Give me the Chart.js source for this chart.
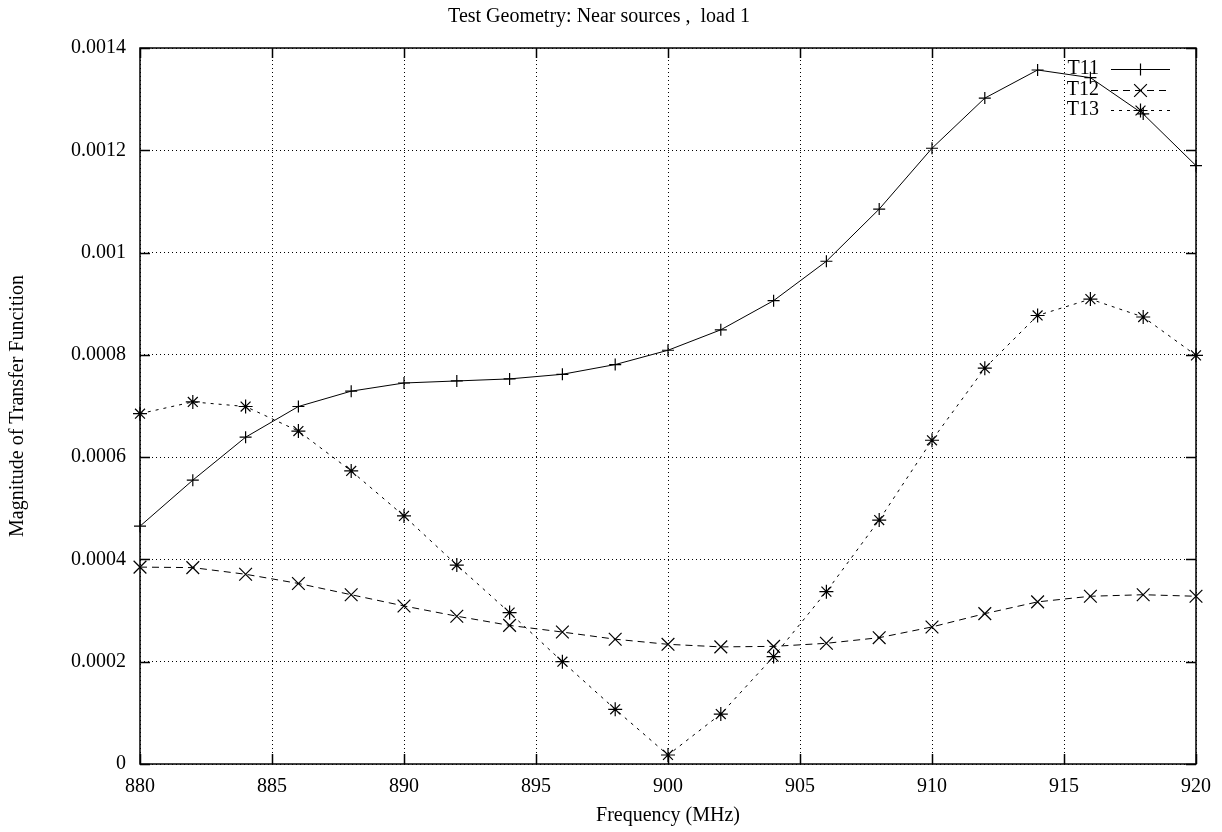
<!DOCTYPE html>
<html>
<head>
<meta charset="utf-8">
<script src="https://cdn.jsdelivr.net/npm/chart.js@4/dist/chart.umd.min.js"></script>
<style>
  html, body { margin: 0; padding: 0; background: #fff; }
  #wrap { width: 1222px; height: 832px; position: relative; }
</style>
</head>
<body>
<div id="wrap"><canvas id="c"></canvas></div>
<script>
const frequencies = [880, 882, 884, 886, 888, 890, 892, 894, 896, 898, 900, 902, 904, 906, 908, 910, 912, 914, 916, 918, 920];
const t11 = [0.000465, 0.000555, 0.000639, 0.000699, 0.000729, 0.000745, 0.000749, 0.000753, 0.000762, 0.000781, 0.000809, 0.000849, 0.000906, 0.000983, 0.001085, 0.001204, 0.001302, 0.001357, 0.001342, 0.001271, 0.001170];
const t12 = [0.000385, 0.000384, 0.000371, 0.000353, 0.000331, 0.000309, 0.000289, 0.000271, 0.000258, 0.000244, 0.000234, 0.000229, 0.000230, 0.000236, 0.000247, 0.000268, 0.000294, 0.000317, 0.000328, 0.000331, 0.000328];
const t13 = [0.000685, 0.000708, 0.000699, 0.000651, 0.000573, 0.000485, 0.000389, 0.000296, 0.000200, 0.000107, 0.0000176, 0.0000977, 0.000210, 0.000337, 0.000477, 0.000633, 0.000774, 0.000877, 0.000909, 0.000874, 0.000799];
const seriesNames = ['T11', 'T12', 'T13'];
const xTicks = [880, 885, 890, 895, 900, 905, 910, 915, 920];
const yTicks = [0, 0.0002, 0.0004, 0.0006, 0.0008, 0.001, 0.0012, 0.0014];
const titleText = 'Test Geometry: Near sources ,  load 1';
const xTitle = 'Frequency (MHz)';
const yTitle = 'Magnitude of Transfer Funcition';

const FONT = 'Liberation Serif, Times New Roman, serif';
const toPts = arr => arr.map((v, i) => ({x: frequencies[i], y: v}));

const styles = [
  {dash: [], point: 'cross', r: 6},
  {dash: [7, 5], point: 'crossRot', r: 9},
  {dash: [3, 5], point: 'star', r: 7}
];
const values = [t11, t12, t13];

const datasets = values.map((vals, i) => ({
  label: seriesNames[i],
  data: toPts(vals),
  borderColor: '#000',
  backgroundColor: '#000',
  borderWidth: 1,
  borderDash: styles[i].dash,
  pointStyle: styles[i].point,
  pointRadius: styles[i].r,
  pointBorderWidth: 1.2,
  pointBorderColor: '#000',
  pointHoverRadius: styles[i].r,
  tension: 0,
  fill: false,
  clip: false
}));

const frameTicksPlugin = {
  id: 'frameTicks',
  beforeDatasetsDraw(chart) {
    const {ctx, chartArea: a, scales} = chart;
    ctx.save();
    ctx.strokeStyle = '#000';
    ctx.lineWidth = 1.5;
    const L = 10;
    ctx.beginPath();
    scales.x.ticks.forEach(t => {
      const px = Math.round(scales.x.getPixelForValue(t.value)) + 0.5;
      ctx.moveTo(px, a.bottom); ctx.lineTo(px, a.bottom - L);
      ctx.moveTo(px, a.top); ctx.lineTo(px, a.top + L);
    });
    scales.y.ticks.forEach(t => {
      const py = Math.round(scales.y.getPixelForValue(t.value)) + 0.5;
      ctx.moveTo(a.left, py); ctx.lineTo(a.left + L, py);
      ctx.moveTo(a.right, py); ctx.lineTo(a.right - L, py);
    });
    ctx.stroke();
    ctx.lineWidth = 1.5;
    ctx.strokeRect(a.left, a.top, a.right - a.left, a.bottom - a.top);
    ctx.restore();
  }
};

const keyPlugin = {
  id: 'gnuKey',
  afterDatasetsDraw(chart) {
    const {ctx, chartArea: a} = chart;
    ctx.save();
    ctx.font = '20px ' + FONT;
    ctx.fillStyle = '#000';
    ctx.textAlign = 'right';
    ctx.textBaseline = 'middle';
    chart.data.datasets.forEach((ds, i) => {
      const y = a.top + 21 + i * 20.5;
      ctx.fillText(ds.label, a.right - 97, y);
      const x0 = a.right - 85, x1 = a.right - 26;
      ctx.strokeStyle = '#000';
      ctx.lineWidth = 1;
      ctx.setLineDash(ds.borderDash);
      ctx.beginPath();
      ctx.moveTo(x0, Math.round(y) + 0.5);
      ctx.lineTo(x1, Math.round(y) + 0.5);
      ctx.stroke();
      ctx.setLineDash([]);
      ctx.lineWidth = 1.2;
      Chart.helpers.drawPoint(ctx, {pointStyle: ds.pointStyle, radius: ds.pointRadius, borderWidth: 1.2, rotation: 0}, (x0 + x1) / 2, Math.round(y) + 0.5);
    });
    ctx.restore();
  }
};

new Chart(document.getElementById('c'), {
  type: 'line',
  data: {datasets},
  plugins: [frameTicksPlugin, keyPlugin],
  options: {
    responsive: true,
    maintainAspectRatio: false,
    animation: false,
    events: [],
    layout: {padding: {left: 0, right: 24, top: 0, bottom: 0}},
    plugins: {
      legend: {display: false},
      tooltip: {enabled: false},
      title: {
        display: true,
        text: titleText,
        color: '#000',
        font: {family: FONT, size: 20, weight: 'normal'},
        padding: {top: 5, bottom: 19}
      }
    },
    scales: {
      x: {
        type: 'linear',
        min: 880,
        max: 920,
        afterBuildTicks: s => { s.ticks = xTicks.map(v => ({value: v})); },
        afterFit: s => { s.height = 68; },
        ticks: {
          color: '#000',
          font: {family: FONT, size: 20},
          padding: 11,
          maxRotation: 0,
          autoSkip: false,
          callback: v => String(v)
        },
        grid: {
          color: '#000',
          lineWidth: 1,
          drawTicks: false
        },
        border: {display: false, dash: [1, 3]},
        title: {
          display: true,
          text: xTitle,
          color: '#000',
          font: {family: FONT, size: 20},
          padding: {top: 4, bottom: 4}
        }
      },
      y: {
        type: 'linear',
        min: 0,
        max: 0.0014,
        afterBuildTicks: s => { s.ticks = yTicks.map(v => ({value: v})); },
        afterFit: s => { s.width = 140; },
        ticks: {
          color: '#000',
          font: {family: FONT, size: 20},
          padding: 14,
          autoSkip: false,
          callback: v => (v === 0 ? '0' : String(parseFloat(v.toPrecision(6))))
        },
        grid: {
          color: '#000',
          lineWidth: 1,
          drawTicks: false
        },
        border: {display: false, dash: [1, 3]},
        title: {
          display: true,
          text: yTitle,
          color: '#000',
          font: {family: FONT, size: 20},
          padding: {top: 6, bottom: 4}
        }
      }
    }
  }
});
</script>
</body>
</html>
